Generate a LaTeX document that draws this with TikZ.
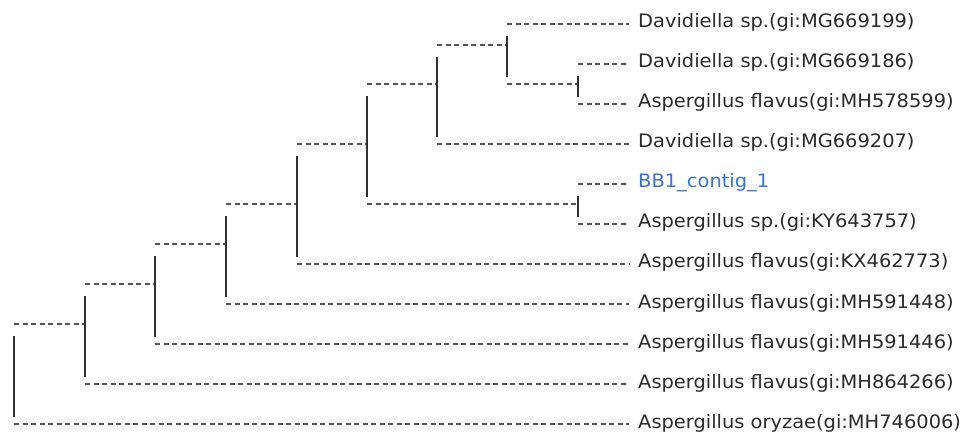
\documentclass[tikz,border=0pt]{standalone}
\usepackage{fontspec}
\setmainfont{DejaVu Sans}
\usetikzlibrary{calc}
\definecolor{branchgray}{HTML}{555555}
\definecolor{stemgray}{HTML}{303030}
\definecolor{labelgray}{HTML}{2A2A2A}
\definecolor{queryblue}{HTML}{3B73C8}
\begin{document}
\begin{tikzpicture}[x=1pt,y=-1pt,
  branch/.style={draw=branchgray, line width=2pt, dash pattern=on 5pt off 3.5pt},
  stem/.style={draw=stemgray, line width=1.6pt},
  taxon/.style={anchor=base west, inner sep=0pt, text=labelgray,
    font=\fontsize{18.5}{20}\selectfont, xshift=9pt, yshift=-4pt, xscale=1.05},
]
\useasboundingbox (0,0) rectangle (965,435);

% internal nodes (x = depth, y = height of the incoming branch)
\coordinate (A) at (578,84);
\coordinate (B) at (507,45);
\coordinate (C) at (437,84);
\coordinate (D) at (578,204);
\coordinate (E) at (367,144);
\coordinate (F) at (297,204);
\coordinate (G) at (226,244);
\coordinate (H) at (155,284);
\coordinate (I) at (85,324);
\coordinate (J) at (14,374);

% leaf ends and their labels
\foreach \k/\yy in {0/24,1/64,2/104,3/144,4/184,5/224,6/264,7/304,8/344,9/384,10/424}
  \coordinate (e\k) at (629,\yy);

\node[taxon] (t0) at (e0) {Davidiella sp.(gi:MG669199)};
\node[taxon] (t1) at (e1) {Davidiella sp.(gi:MG669186)};
\node[taxon] (t2) at (e2) {Aspergillus flavus(gi:MH578599)};
\node[taxon] (t3) at (e3) {Davidiella sp.(gi:MG669207)};
\node[taxon, text=queryblue] (t4) at (e4) {BB1\_contig\_1};
\node[taxon] (t5) at (e5) {Aspergillus sp.(gi:KY643757)};
\node[taxon] (t6) at (e6) {Aspergillus flavus(gi:KX462773)};
\node[taxon] (t7) at (e7) {Aspergillus flavus(gi:MH591448)};
\node[taxon] (t8) at (e8) {Aspergillus flavus(gi:MH591446)};
\node[taxon] (t9) at (e9) {Aspergillus flavus(gi:MH864266)};
\node[taxon] (t10) at (e10) {Aspergillus oryzae(gi:MH746006)};

% leaf branches
\draw[branch] (B |- e0) -- (e0);
\draw[branch] (A |- e1) -- (e1);
\draw[branch] (A |- e2) -- (e2);
\draw[branch] (C |- e3) -- (e3);
\draw[branch] (D |- e4) -- (e4);
\draw[branch] (D |- e5) -- (e5);
\draw[branch] (F |- e6) -- (e6);
\draw[branch] (G |- e7) -- (e7);
\draw[branch] (H |- e8) -- (e8);
\draw[branch] (I |- e9) -- (e9);
\draw[branch] (J |- e10) -- (e10);

% internal branches
\draw[branch] (B |- A) -- (A);
\draw[branch] (C |- B) -- (B);
\draw[branch] (E |- C) -- (C);
\draw[branch] (E |- D) -- (D);
\draw[branch] (F |- E) -- (E);
\draw[branch] (G |- F) -- (F);
\draw[branch] (H |- G) -- (G);
\draw[branch] (I |- H) -- (H);
\draw[branch] (J |- I) -- (I);

% vertical connectors spanning each node's children
\draw[stem] ($(A |- e1)+(0,12)$) -- ($(A |- e2)+(0,-7)$);
\draw[stem] ($(B |- e0)+(0,12)$) -- ($(B |- A)+(0,-7)$);
\draw[stem] ($(C |- B)+(0,12)$) -- ($(C |- e3)+(0,-7)$);
\draw[stem] ($(D |- e4)+(0,12)$) -- ($(D |- e5)+(0,-7)$);
\draw[stem] ($(E |- C)+(0,12)$) -- ($(E |- D)+(0,-7)$);
\draw[stem] ($(F |- E)+(0,12)$) -- ($(F |- e6)+(0,-7)$);
\draw[stem] ($(G |- F)+(0,12)$) -- ($(G |- e7)+(0,-7)$);
\draw[stem] ($(H |- G)+(0,12)$) -- ($(H |- e8)+(0,-7)$);
\draw[stem] ($(I |- H)+(0,12)$) -- ($(I |- e9)+(0,-7)$);
\draw[stem] ($(J |- I)+(0,12)$) -- ($(J |- e10)+(0,-7)$);
\end{tikzpicture}
\end{document}
